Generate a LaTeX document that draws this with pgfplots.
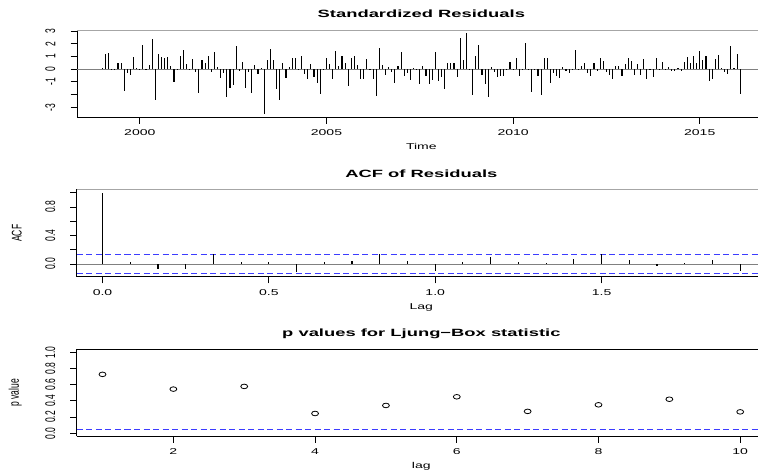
\documentclass[border=0pt]{standalone}
\usepackage{fontspec}
\setmainfont{Liberation Sans}
\usepackage{graphicx}
\usepackage{pgfplots}
\usepackage{pgfplotstable}
\pgfplotsset{compat=1.18}
\definecolor{rblue}{RGB}{60,60,255}
\newcommand{\hx}[1]{\scalebox{1.65}[1]{#1}}
\newcommand{\vy}[1]{\scalebox{1.65}[1]{\rotatebox{90}{#1}}}
\newcommand{\ttl}[1]{\scalebox{1.75}[1]{\fontsize{10.5}{12}\selectfont\bfseries #1}}

\pgfplotstableread{
r
0.10
1.16
1.25
-0.10
0.05
0.47
0.47
-1.70
-0.32
-0.48
0.93
0.10
-0.10
1.88
0.05
0.36
2.40
-2.45
1.17
0.92
0.88
0.98
0.23
-1.00
0.02
1.07
1.53
0.40
-0.10
0.77
-0.25
-1.87
0.70
0.50
1.00
-0.20
1.35
0.16
-0.71
-0.30
-2.20
-1.48
-1.25
1.80
-0.13
0.60
-1.45
-0.20
-1.90
0.35
-0.36
0.08
-3.55
0.70
1.56
0.71
-1.60
-2.45
0.50
-0.66
0.15
0.90
0.88
-0.08
1.06
-0.40
-0.80
0.40
-0.60
-1.06
-1.93
0.05
0.85
0.40
-0.74
1.46
0.26
1.00
0.48
-1.30
0.85
1.03
0.32
-0.80
-0.80
0.80
0.05
-0.80
-2.10
1.67
0.29
-0.48
0.16
-0.20
-1.06
0.26
1.32
-0.53
-0.30
-0.82
0.08
-0.10
-1.14
0.24
-0.50
-1.14
-0.82
1.32
-0.95
-0.60
-1.53
0.45
0.45
0.50
-0.60
2.43
0.72
2.83
-0.05
-2.00
1.03
1.90
-0.45
-1.16
-2.17
0.20
-0.20
-0.60
-0.50
-0.53
0.05
0.57
0.05
0.85
-0.55
0.05
2.04
0.05
-1.80
0.05
-0.56
-2.00
0.85
0.85
-1.06
-0.34
-0.53
-0.66
0.19
-0.16
-0.34
0.05
1.50
-0.10
0.26
0.45
-0.34
-0.53
0.45
-0.16
0.85
0.66
-0.20
-0.48
-0.80
0.24
0.26
-0.53
0.37
0.85
0.63
-0.48
0.37
-0.48
0.77
-0.80
0.05
-0.60
0.85
0.05
0.53
-0.10
0.16
-0.13
-0.13
0.13
-0.13
0.58
0.98
0.45
1.03
0.50
1.43
0.71
1.03
-0.93
-0.74
0.77
1.11
0.10
-0.20
-0.40
1.85
0.10
1.22
-1.98
}\resid

\pgfplotstableread{
acf
1.000
0.030
-0.075
-0.075
0.140
0.030
0.025
-0.116
0.030
0.040
0.135
0.040
-0.093
0.035
0.093
0.030
0.010
0.075
0.144
0.055
-0.030
0.010
0.055
-0.093
}\acfdata

\pgfplotstableread{
lag p
1 0.727
2 0.545
3 0.578
4 0.244
5 0.343
6 0.450
7 0.270
8 0.351
9 0.420
10 0.264
}\pvals

\pgfplotsset{
  rpanel/.style={
    scale only axis, width=688.7pt, height=87.5pt,
    anchor=south west,
    axis lines=left, axis line style={-, line width=1pt, black},
    tick align=outside, xtick pos=bottom, ytick pos=left,
    tick style={black, line width=0.8pt},
    major tick length=6.5pt,
    minor tick num=0,
    tick label style={font=\fontsize{8.5}{10}\selectfont},
    xticklabel style={anchor=base, yshift=-12pt},
    yticklabel style={anchor=east, inner sep=0pt, xshift=-15pt},
    every axis title/.style={at={(axis description cs:0.5,1)}, anchor=base, yshift=12pt},
    every axis x label/.style={at={(axis description cs:0.5,0)}, anchor=base, yshift=-32.5pt, font=\fontsize{8.5}{10}\selectfont},
    every axis y label/.style={at={(axis description cs:0,0.5)}, anchor=east, inner sep=0pt, xshift=-55pt, font=\fontsize{8.5}{10}\selectfont},
  },
  rdash/.style={draw=rblue, color=rblue, line width=0.9pt, dash pattern=on 6pt off 3.5pt, forget plot, mark=none},
}

\begin{document}
\begin{tikzpicture}
\useasboundingbox (0,0) rectangle (758pt,473pt);
\clip (0,0) rectangle (758pt,473pt);

% Standardized residuals
\begin{axis}[rpanel, at={(77pt,355.5pt)},
  xmin=1998.317, xmax=2016.767, ymin=-3.805, ymax=3.085,
  xtick={2000,2005,2010,2015},
  xticklabels={\hx{2000},\hx{2005},\hx{2010},\hx{2015}},
  ytick={-3,-2,-1,0,1,2,3},
  yticklabels={\vy{-3},{},\vy{-1},\vy{0},\vy{1},\vy{2},\vy{3}},
  title={\ttl{Standardized Residuals}},
  xlabel={\hx{Time}}]
\addplot[gray, line width=1pt, forget plot] coordinates {(1998.317,0) (2016.767,0)};
\addplot[ycomb, black, line width=1.1pt, mark=none] table[x expr=1999+\coordindex/12, y=r] {\resid};
\draw[gray!70, line width=0.7pt] (rel axis cs:0,1) -- (rel axis cs:1,1);
\end{axis}

% ACF
\begin{axis}[rpanel, at={(77pt,196pt)},
  xmin=-0.07667, xmax=1.99333, ymin=-0.182, ymax=1.045,
  xtick={0,0.5,1,1.5},
  xticklabels={\hx{0.0},\hx{0.5},\hx{1.0},\hx{1.5}},
  ytick={0,0.2,0.4,0.6,0.8,1},
  yticklabels={\vy{0.0},{},\vy{0.4},{},\vy{0.8},{}},
  title={\ttl{ACF of Residuals}},
  xlabel={\hx{Lag}}, ylabel={\vy{ACF}}]
\addplot[gray, line width=1pt, forget plot] coordinates {(-0.07667,0) (1.99333,0)};
\addplot[rdash] coordinates {(-0.07667,0.1366) (1.99333,0.1366)};
\addplot[rdash] coordinates {(-0.07667,-0.1366) (1.99333,-0.1366)};
\addplot[ycomb, black, line width=1.1pt, mark=none] table[x expr=\coordindex/12, y=acf] {\acfdata};
\draw[gray!70, line width=0.7pt] (rel axis cs:0,1) -- (rel axis cs:1,1);
\end{axis}

% Ljung-Box
\begin{axis}[rpanel, at={(77pt,36.5pt)},
  xmin=0.64, xmax=10.36, ymin=-0.04, ymax=1.04,
  xtick={2,4,6,8,10},
  xticklabels={\hx{2},\hx{4},\hx{6},\hx{8},\hx{10}},
  ytick={0,0.2,0.4,0.6,0.8,1},
  yticklabels={\vy{0.0},\vy{0.2},\vy{0.4},\vy{0.6},\vy{0.8},\vy{1.0}},
  title={\ttl{p values for Ljung−Box statistic}},
  xlabel={\hx{lag}}, ylabel={\vy{p value}}]
\addplot[rdash] coordinates {(0.64,0.05) (10.36,0.05)};
\addplot[only marks, mark=o, mark size=2.3pt, mark options={xscale=1.5, line width=0.8pt, black}] table[x=lag, y=p] {\pvals};
\draw[black, line width=0.9pt] (rel axis cs:0,1) -- (rel axis cs:1,1);
\end{axis}
\end{tikzpicture}
\end{document}
